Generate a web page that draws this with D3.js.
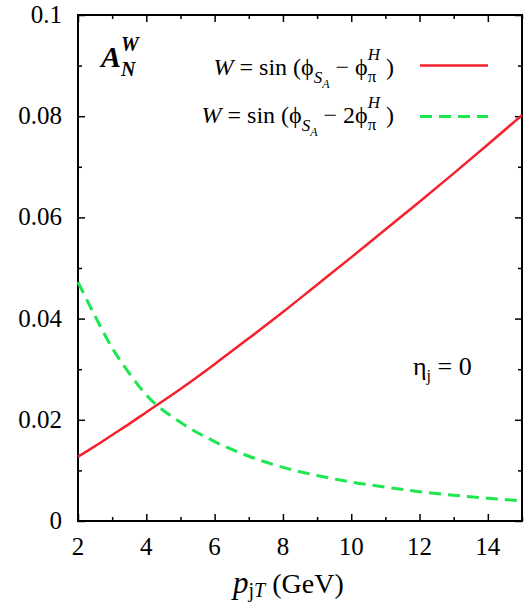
<!DOCTYPE html>
<html>
<head>
<meta charset="utf-8">
<script src="https://cdn.jsdelivr.net/npm/d3@7"></script>
<style>
  body { margin: 0; background: #fff; }
  svg text { font-family: "Liberation Serif", "DejaVu Serif", serif; fill: #000; }
</style>
</head>
<body>
<svg id="plot" width="529" height="606" style="font-family: 'Liberation Serif', 'DejaVu Serif', serif"></svg>
<script>
// values
var pT = [2, 2.5, 3, 3.5, 4, 5, 6, 7, 8, 9, 10, 11, 12, 13, 14, 15];
var sinPhiS_minus_phiH = [0.0127, 0.0148, 0.0170, 0.0192, 0.0215, 0.0261, 0.0310, 0.0361, 0.0413, 0.0467, 0.0521, 0.0576, 0.0631, 0.0687, 0.0744, 0.0802];
var sinPhiS_minus_2phiH = [0.0472, 0.0405, 0.0342, 0.0292, 0.0249, 0.0195, 0.0157, 0.0128, 0.0106, 0.0090, 0.0077, 0.0067, 0.0058, 0.0051, 0.0045, 0.0040];
var xTicks = [2, 4, 6, 8, 10, 12, 14];
var xMinor = [3, 5, 7, 9, 11, 13, 15];
var yTicks = [0, 0.02, 0.04, 0.06, 0.08, 0.1];
var yMinor = [0.01, 0.03, 0.05, 0.07, 0.09];

var svg = d3.select("#plot"),
    margin = {top: 15, right: 7, bottom: 85, left: 78},
    width = +svg.attr("width") - margin.left - margin.right,
    height = +svg.attr("height") - margin.top - margin.bottom;

var x = d3.scaleLinear().domain([2, 15]).range([0, width]),
    y = d3.scaleLinear().domain([0, 0.1]).range([height, 0]);

var g = svg.append("g")
    .attr("transform", "translate(" + margin.left + "," + margin.top + ")");

// inward ticks on all four sides
function ticks(axis, vals, len) {
    return axis.tickValues(vals).tickSizeInner(-len).tickSizeOuter(0).tickFormat("");
}
var axes = [
    [d3.axisBottom(x), "translate(0," + height + ")", xTicks, xMinor],
    [d3.axisTop(x), null, xTicks, xMinor],
    [d3.axisLeft(y), null, yTicks, yMinor],
    [d3.axisRight(y), "translate(" + width + ",0)", yTicks, yMinor]
];
axes.forEach(function(a) {
    [[a[2], 7], [a[3], 4]].forEach(function(t) {
        var ax = g.append("g").call(ticks(a[0], t[0], t[1]));
        if (a[1]) ax.attr("transform", a[1]);
        ax.select(".domain").remove();
        ax.selectAll("line").attr("stroke", "#000").attr("stroke-width", 1.5);
    });
});

g.append("rect")
    .attr("width", width).attr("height", height)
    .attr("fill", "none").attr("stroke", "#000").attr("stroke-width", 2);

// tick labels
g.selectAll(".xlab").data(xTicks).enter().append("text")
    .attr("x", function(d) { return x(d); })
    .attr("y", height + 34)
    .attr("text-anchor", "middle")
    .style("font-size", "25px")
    .text(function(d) { return d; });

g.selectAll(".ylab").data(yTicks).enter().append("text")
    .attr("x", -16)
    .attr("y", function(d) { return y(d) + 8; })
    .attr("text-anchor", "end")
    .style("font-size", "25px")
    .text(function(d) { return d; });

// curves
var line = d3.line().curve(d3.curveMonotoneX)
    .x(function(d) { return x(d[0]); })
    .y(function(d) { return y(d[1]); });

g.append("path")
    .datum(d3.zip(pT, sinPhiS_minus_phiH))
    .attr("fill", "none").attr("stroke", "#f5222d").attr("stroke-width", 2.5)
    .attr("d", line);

g.append("path")
    .datum(d3.zip(pT, sinPhiS_minus_2phiH))
    .attr("fill", "none").attr("stroke", "#1ee650").attr("stroke-width", 3)
    .attr("stroke-dasharray", "12,7")
    .attr("d", line);

// lays out text pieces one after another, measuring widths
// piece: [text, size, baselineShift, style, stack]  stack=true -> next piece starts at same x
function rich(parent, pieces, px, py, anchor) {
    var grp = parent.append("g");
    var cx = 0, lastW = 0;
    pieces.forEach(function(p) {
        var t = grp.append("text")
            .attr("x", cx).attr("y", p[2] || 0)
            .style("font-size", p[1] + "px")
            .style("white-space", "pre")
            .attr("xml:space", "preserve")
            .text(p[0]);
        if (p[3]) t.style("font-style", p[3].indexOf("i") >= 0 ? "italic" : "normal")
                   .style("font-weight", p[3].indexOf("b") >= 0 ? "bold" : "normal");
        var w = t.node().getComputedTextLength();
        if (p[4]) { lastW = w; }
        else { cx += Math.max(w, lastW); lastW = 0; }
    });
    var shift = anchor === "end" ? -cx : 0;
    grp.attr("transform", "translate(" + (px + shift) + "," + py + ")");
    return grp;
}

// legend
rich(svg, [
    ["W", 24, 0, "i"], [" = sin (", 24], ["\u03d5", 24], ["S", 17, 8, "i"], ["A", 12, 13, "i"],
    [" \u2212 ", 24], ["\u03d5", 24], ["\u03c0", 17, 7, "", true], ["H", 17, -15, "i"], [" )", 24]
], 394, 75, "end");
rich(svg, [
    ["W", 24, 0, "i"], [" = sin (", 24], ["\u03d5", 24], ["S", 17, 8, "i"], ["A", 12, 13, "i"],
    [" \u2212 2", 24], ["\u03d5", 24], ["\u03c0", 17, 7, "", true], ["H", 17, -15, "i"], [" )", 24]
], 394, 123, "end");

svg.append("line").attr("x1", 420).attr("x2", 488).attr("y1", 65.5).attr("y2", 65.5)
    .attr("stroke", "#f5222d").attr("stroke-width", 2.5);
svg.append("line").attr("x1", 420).attr("x2", 488).attr("y1", 116.5).attr("y2", 116.5)
    .attr("stroke", "#1ee650").attr("stroke-width", 3).attr("stroke-dasharray", "12,7");

// A_N^W label
rich(svg, [["A", 30, 0, "bi"], ["W", 20, -16, "bi", true], ["N", 20, 9, "bi"]], 101, 67, "start");

// eta_j = 0
rich(svg, [["\u03b7", 26], ["j", 16, 6], [" = 0", 26]], 413, 375, "start");

// x axis title
rich(svg, [["p", 31, 0, "i"], ["j", 20, 4], ["T", 20, 4, "i"], [" (GeV)", 28]], 233, 593, "start");
</script>
</body>
</html>
